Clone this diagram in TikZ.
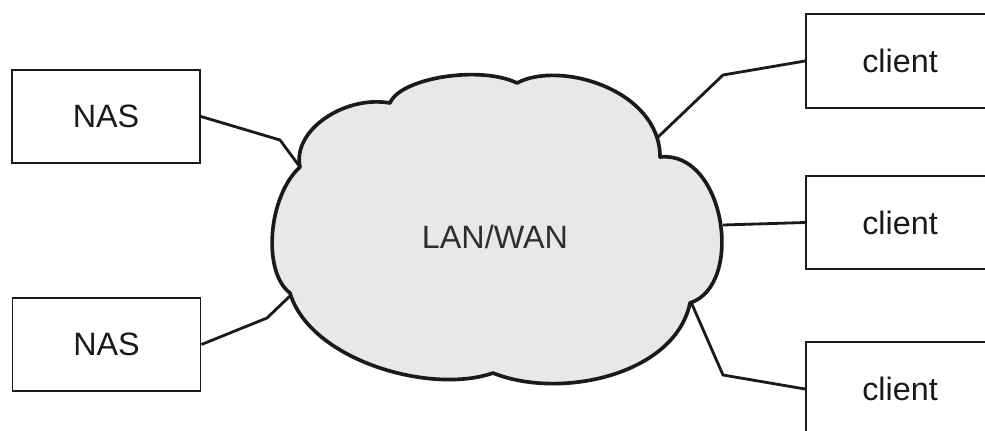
\documentclass[tikz,border=0pt]{standalone}
\usepackage{fontspec}
\setmainfont{Liberation Sans}
\definecolor{ink}      {HTML}{1A1A1A}
\definecolor{cloudfill}{HTML}{E8E8E8}
\definecolor{labelgray}{HTML}{2E2E2E}
\usepackage{tikz}
\usetikzlibrary{calc}
\tikzset{
  devbox/.style={draw=ink,line width=1.3pt,fill=white,inner sep=0pt,
                 minimum width=4.7cm,minimum height=2.33cm,
                 font=\fontsize{23}{27}\selectfont,text=ink},
  link/.style={draw=ink,line width=2pt,line join=round},
  cloudline/.style={draw=ink,line width=2.6pt,fill=cloudfill,line join=round},
  netlabel/.style={font=\fontsize{23}{27}\selectfont,text=labelgray}
}

\begin{document}
\begin{tikzpicture}[x=0.025cm,y=-0.025cm]
  \useasboundingbox (0,0) rectangle (985,430);
  \clip (0,0) rectangle (985,430);

  \draw[cloudline] (300,167) .. controls (292,130) and (345,95) .. (390,103)
    .. controls (400,78) and (480,65) .. (517,83)
    .. controls (560,60) and (660,90) .. (660,157)
    .. controls (725,150) and (745,285) .. (690,303)
    .. controls (675,375) and (560,400) .. (493,373)
    .. controls (430,395) and (310,360) .. (290,293)
    .. controls (262,272) and (268,196) .. cycle;
  \node[netlabel] (lanwan) at (495,237) {LAN/WAN};

  \coordinate (c-nas1) at (300,167);
  \coordinate (c-nas2) at (290,296);
  \coordinate (c-cl1) at (657,138);
  \coordinate (c-cl2) at (723,225);
  \coordinate (c-cl3) at (691,302);

  \node[devbox] (nas1) at (106,116.5) {NAS};
  \node[devbox] (nas2) at (106.5,344.5) {NAS};
  \node[devbox] (client1) at (900,61) {client};
  \node[devbox] (client2) at (900,222.5) {client};
  \node[devbox] (client3) at (900,389) {client};

  \draw[link] (nas1.east) -- (280,140) -- (c-nas1);
  \draw[link] (nas2.east) -- (267,318) -- (c-nas2);
  \draw[link] (client1.west) -- (723,75) -- (c-cl1);
  \draw[link] (client2.west) -- (c-cl2);
  \draw[link] (client3.west) -- (723,375) -- (c-cl3);
\end{tikzpicture}
\end{document}
